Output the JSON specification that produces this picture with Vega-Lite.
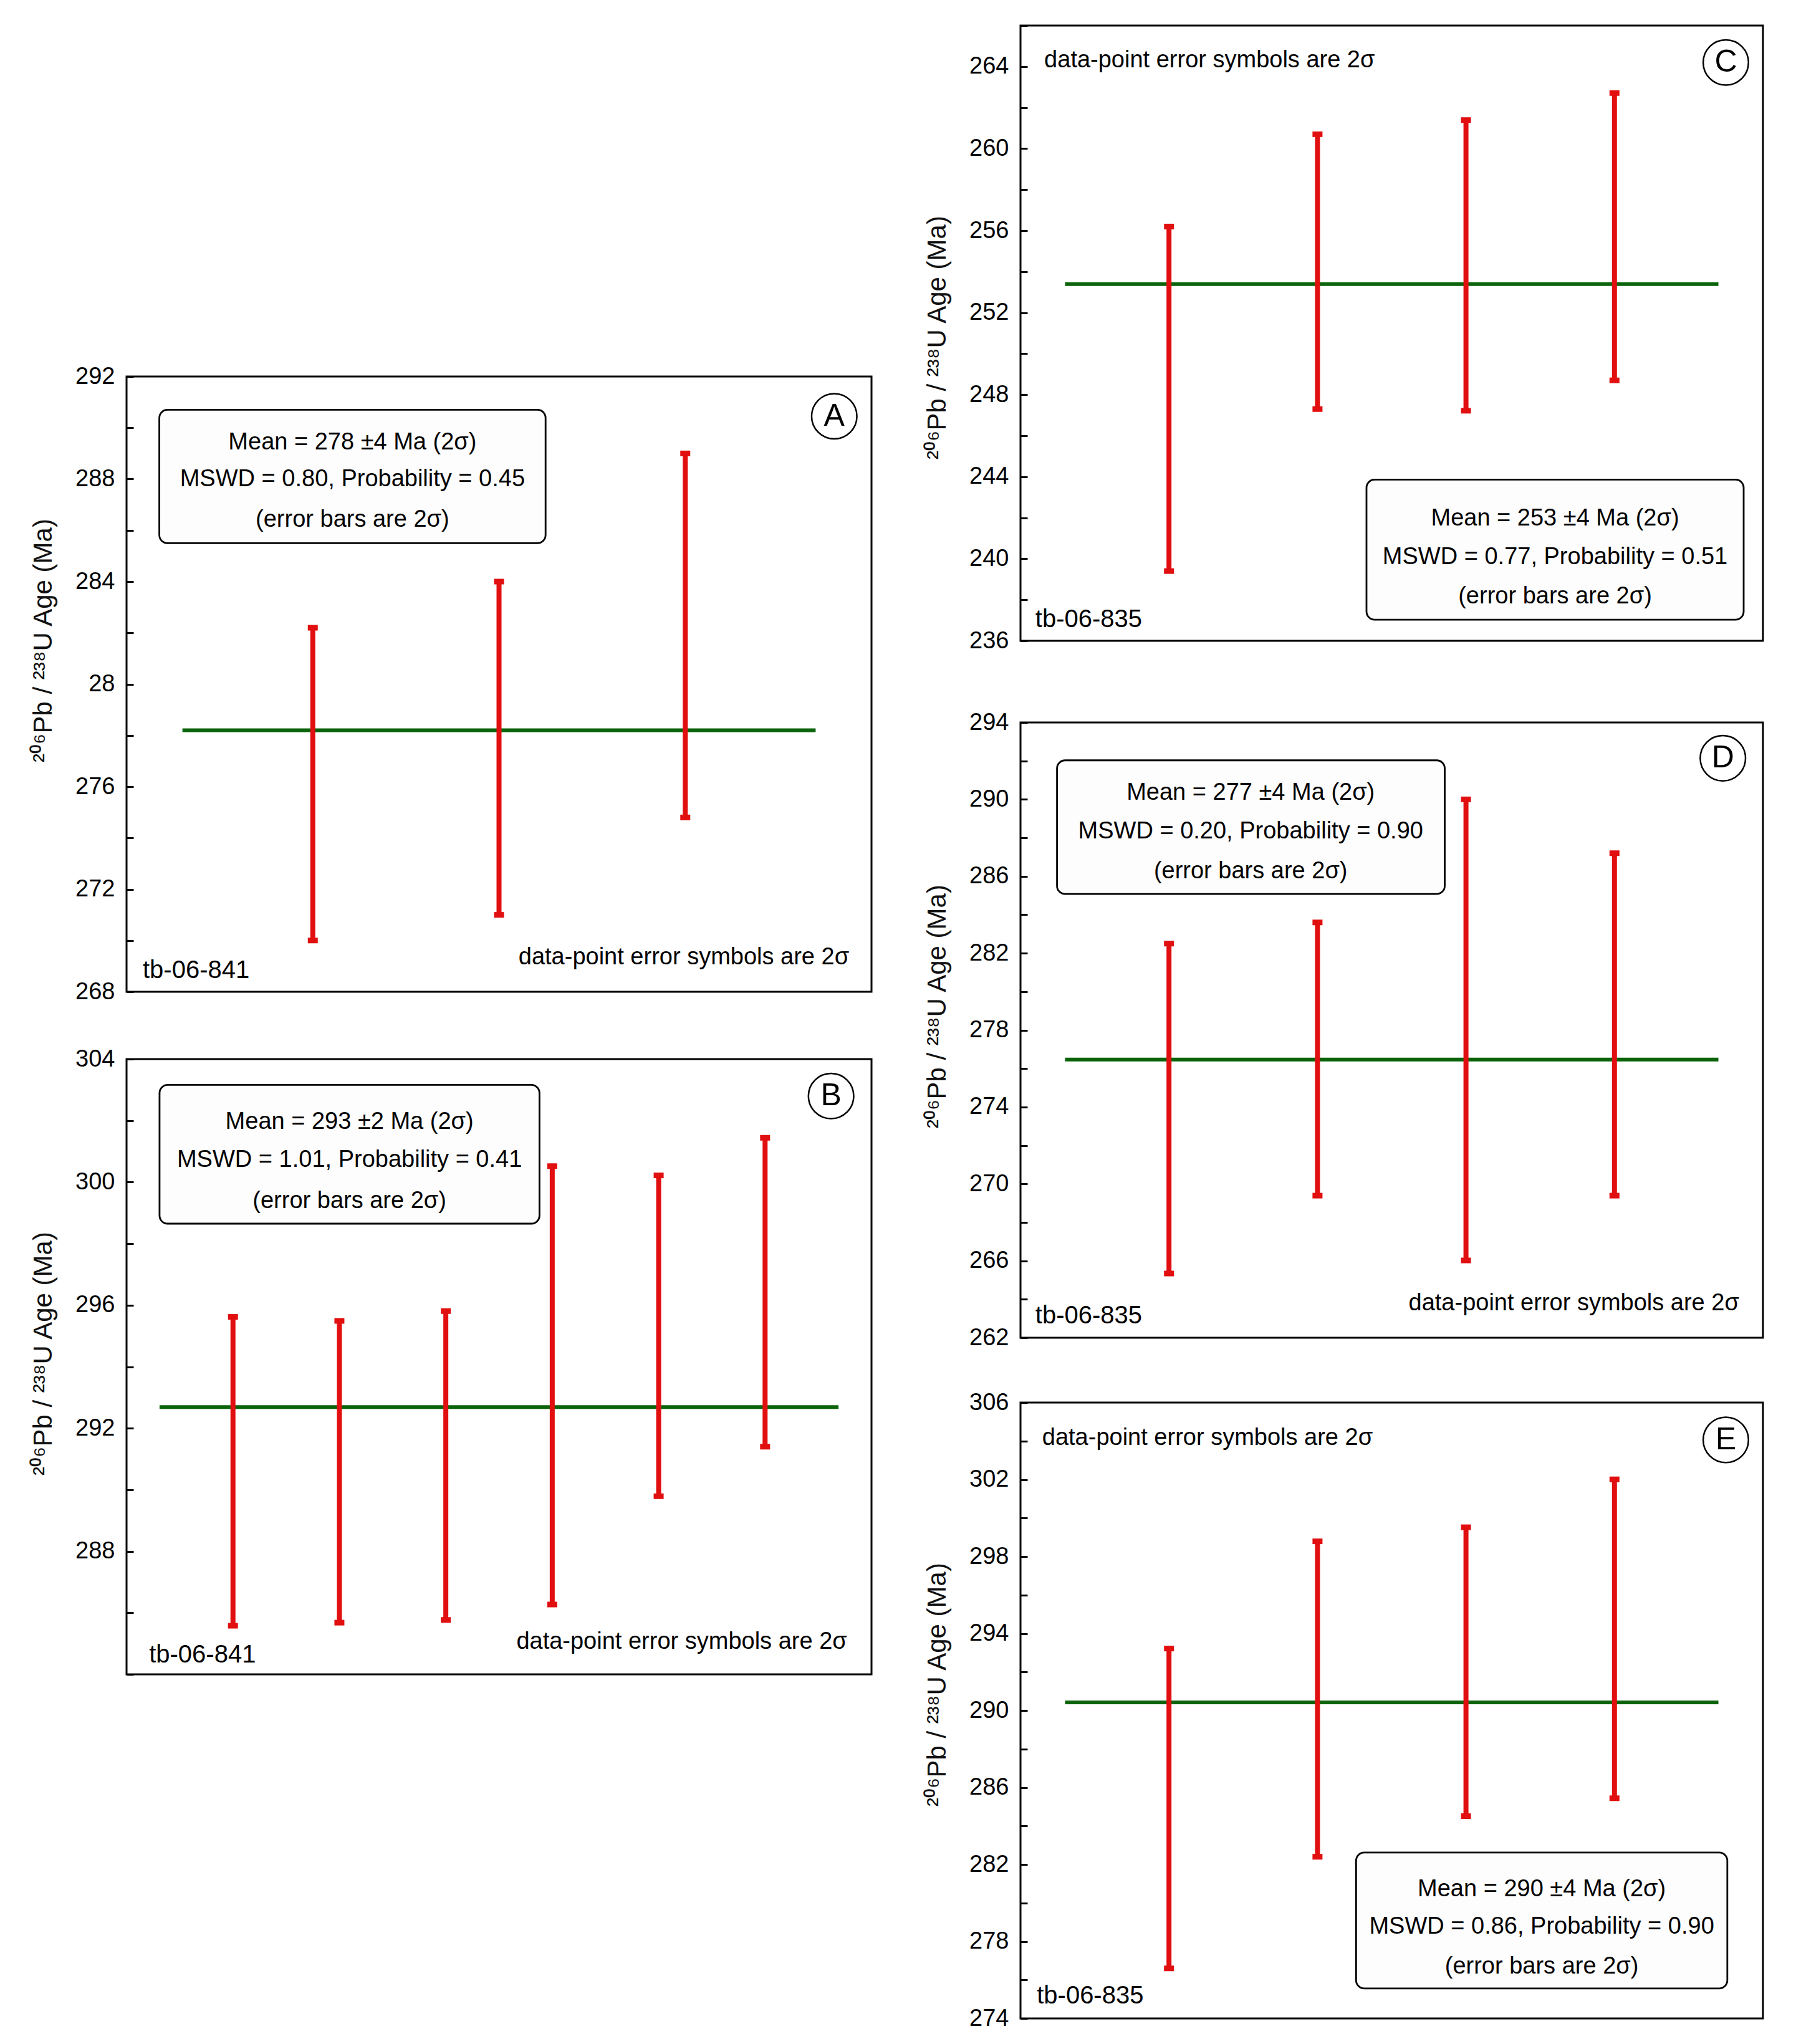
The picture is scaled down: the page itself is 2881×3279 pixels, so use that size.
{
  "$schema": "https://vega.github.io/schema/vega-lite/v6.json",
  "background": "white",
  "padding": {"left": 47, "top": 20, "right": 20, "bottom": 10},
  "config": {
    "font": "Liberation Sans",
    "view": {"stroke": "black", "strokeWidth": 3},
    "axis": {
      "domain": false, "grid": false, "ticks": true, "tickSize": -11, "tickWidth": 3, "tickColor": "black",
      "labelFont": "Liberation Sans", "labelFontSize": 38, "labelColor": "black", "labelPadding": 30,
      "labelFlush": false, "labelOverlap": false, "labelBound": false,
      "titleFont": "Liberation Sans", "titleFontSize": 42, "titleFontWeight": "normal", "titleColor": "#111", "titlePadding": 29
    }
  },
  "spacing": 81,
  "hconcat": [
    {
      "spacing": 66,
      "vconcat": [
        {
          "width": 1195, "height": 476,
          "view": {"stroke": null},
          "data": {"values": [{"t": ""}]},
          "mark": {"type": "text", "text": ""},
          "encoding": {}
        },
        {
          "width": 1195, "height": 987,
          "data": {"values": [
            {"k": "box", "x": 0.176, "x2": 2.25, "y": 285.5, "y2": 290.7},
            {"k": "mean", "x": 0.3, "x2": 3.7, "y": 278.2},
            {"k": "bar", "x": 1, "y": 270.0, "y2": 282.2},
            {"k": "bar", "x": 2, "y": 271.0, "y2": 284.0},
            {"k": "bar", "x": 3, "y": 274.8, "y2": 289.0},
            {"k": "circ", "x": 3.80, "y": 290.45, "t": "A"},
            {"k": "bt", "x": 1.213, "y": 289.43, "t": "Mean = 278 ±4 Ma (2σ)"},
            {"k": "bt", "x": 1.213, "y": 287.99, "t": "MSWD = 0.80, Probability = 0.45"},
            {"k": "bt", "x": 1.213, "y": 286.40, "t": "(error bars are 2σ)"},
            {"k": "id", "x": 0.087, "y": 268.83, "t": "tb-06-841"},
            {"k": "dr", "x": 3.88, "y": 269.33, "t": "data-point error symbols are 2σ"}
          ]},
          "encoding": {
            "x": {"field": "x", "type": "quantitative", "scale": {"domain": [0, 4], "nice": false, "zero": false}, "axis": null},
            "y": {"field": "y", "type": "quantitative", "scale": {"domain": [268, 292], "nice": false, "zero": false},
              "axis": {"values": [268, 270, 272, 274, 276, 278, 280, 282, 284, 286, 288, 290, 292],
                "labelExpr": "datum.value == 280 ? '28' : ((datum.value - 268) % 4 == 0 ? datum.label : '')",
                "title": "²⁰⁶Pb / ²³⁸U Age (Ma)", "titleY": 423}}
          },
          "layer": [
            {"transform": [{"filter": "datum.k == 'box'"}], "mark": {"type": "rect", "cornerRadius": 13, "fill": "#fdfdfd", "stroke": "black", "strokeWidth": 2.8}, "encoding": {"x2": {"field": "x2"}, "y2": {"field": "y2"}}},
            {"transform": [{"filter": "datum.k == 'mean'"}], "mark": {"type": "rule", "color": "#0b640b", "strokeWidth": 6}, "encoding": {"x2": {"field": "x2"}}},
            {"transform": [{"filter": "datum.k == 'bar'"}], "mark": {"type": "rule", "color": "#e10f0f", "strokeWidth": 8}, "encoding": {"y2": {"field": "y2"}}},
            {"transform": [{"filter": "datum.k == 'bar'"}], "mark": {"type": "tick", "orient": "horizontal", "color": "#e10f0f", "size": 16, "thickness": 9, "opacity": 1}},
            {"transform": [{"filter": "datum.k == 'bar'"}], "mark": {"type": "tick", "orient": "horizontal", "color": "#e10f0f", "size": 16, "thickness": 9, "opacity": 1}, "encoding": {"y": {"field": "y2", "type": "quantitative"}}},
            {"transform": [{"filter": "datum.k == 'circ'"}], "mark": {"type": "point", "shape": "circle", "size": 5281, "filled": false, "color": "black", "strokeWidth": 2.5, "opacity": 1}},
            {"transform": [{"filter": "datum.k == 'circ'"}], "mark": {"type": "text", "fontSize": 50, "align": "center", "baseline": "middle", "color": "black"}, "encoding": {"text": {"field": "t"}}},
            {"transform": [{"filter": "datum.k == 'bt'"}], "mark": {"type": "text", "fontSize": 38, "align": "center", "baseline": "middle", "color": "black"}, "encoding": {"text": {"field": "t"}}},
            {"transform": [{"filter": "datum.k == 'id'"}], "mark": {"type": "text", "fontSize": 40, "align": "left", "baseline": "middle", "color": "black"}, "encoding": {"text": {"field": "t"}}},
            {"transform": [{"filter": "datum.k == 'dl'"}], "mark": {"type": "text", "fontSize": 38, "align": "left", "baseline": "middle", "color": "black"}, "encoding": {"text": {"field": "t"}}},
            {"transform": [{"filter": "datum.k == 'dr'"}], "mark": {"type": "text", "fontSize": 38, "align": "right", "baseline": "middle", "color": "black"}, "encoding": {"text": {"field": "t"}}}
          ]
        },
        {
          "width": 1195, "height": 987,
          "data": {"values": [
            {"k": "box", "x": 0.31, "x2": 3.88, "y": 298.65, "y2": 303.16},
            {"k": "mean", "x": 0.31, "x2": 6.69, "y": 292.69},
            {"k": "bar", "x": 1, "y": 285.58, "y2": 295.62},
            {"k": "bar", "x": 2, "y": 285.68, "y2": 295.49},
            {"k": "bar", "x": 3, "y": 285.77, "y2": 295.81},
            {"k": "bar", "x": 4, "y": 286.27, "y2": 300.52},
            {"k": "bar", "x": 5, "y": 289.79, "y2": 300.22},
            {"k": "bar", "x": 6, "y": 291.40, "y2": 301.44},
            {"k": "circ", "x": 6.62, "y": 302.80, "t": "B"},
            {"k": "bt", "x": 2.095, "y": 301.95, "t": "Mean = 293 ±2 Ma (2σ)"},
            {"k": "bt", "x": 2.095, "y": 300.71, "t": "MSWD = 1.01, Probability = 0.41"},
            {"k": "bt", "x": 2.095, "y": 299.37, "t": "(error bars are 2σ)"},
            {"k": "id", "x": 0.212, "y": 284.62, "t": "tb-06-841"},
            {"k": "dr", "x": 6.77, "y": 285.06, "t": "data-point error symbols are 2σ"}
          ]},
          "encoding": {
            "x": {"field": "x", "type": "quantitative", "scale": {"domain": [0, 7], "nice": false, "zero": false}, "axis": null},
            "y": {"field": "y", "type": "quantitative", "scale": {"domain": [284, 304], "nice": false, "zero": false},
              "axis": {"values": [284, 286, 288, 290, 292, 294, 296, 298, 300, 302, 304],
                "labelExpr": "(datum.value - 284) % 4 == 0 && datum.value > 284 ? datum.label : ''",
                "title": "²⁰⁶Pb / ²³⁸U Age (Ma)", "titleY": 472}}
          },
          "layer": [
            {"transform": [{"filter": "datum.k == 'box'"}], "mark": {"type": "rect", "cornerRadius": 13, "fill": "#fdfdfd", "stroke": "black", "strokeWidth": 2.8}, "encoding": {"x2": {"field": "x2"}, "y2": {"field": "y2"}}},
            {"transform": [{"filter": "datum.k == 'mean'"}], "mark": {"type": "rule", "color": "#0b640b", "strokeWidth": 6}, "encoding": {"x2": {"field": "x2"}}},
            {"transform": [{"filter": "datum.k == 'bar'"}], "mark": {"type": "rule", "color": "#e10f0f", "strokeWidth": 8}, "encoding": {"y2": {"field": "y2"}}},
            {"transform": [{"filter": "datum.k == 'bar'"}], "mark": {"type": "tick", "orient": "horizontal", "color": "#e10f0f", "size": 16, "thickness": 9, "opacity": 1}},
            {"transform": [{"filter": "datum.k == 'bar'"}], "mark": {"type": "tick", "orient": "horizontal", "color": "#e10f0f", "size": 16, "thickness": 9, "opacity": 1}, "encoding": {"y": {"field": "y2", "type": "quantitative"}}},
            {"transform": [{"filter": "datum.k == 'circ'"}], "mark": {"type": "point", "shape": "circle", "size": 5281, "filled": false, "color": "black", "strokeWidth": 2.5, "opacity": 1}},
            {"transform": [{"filter": "datum.k == 'circ'"}], "mark": {"type": "text", "fontSize": 50, "align": "center", "baseline": "middle", "color": "black"}, "encoding": {"text": {"field": "t"}}},
            {"transform": [{"filter": "datum.k == 'bt'"}], "mark": {"type": "text", "fontSize": 38, "align": "center", "baseline": "middle", "color": "black"}, "encoding": {"text": {"field": "t"}}},
            {"transform": [{"filter": "datum.k == 'id'"}], "mark": {"type": "text", "fontSize": 40, "align": "left", "baseline": "middle", "color": "black"}, "encoding": {"text": {"field": "t"}}},
            {"transform": [{"filter": "datum.k == 'dl'"}], "mark": {"type": "text", "fontSize": 38, "align": "left", "baseline": "middle", "color": "black"}, "encoding": {"text": {"field": "t"}}},
            {"transform": [{"filter": "datum.k == 'dr'"}], "mark": {"type": "text", "fontSize": 38, "align": "right", "baseline": "middle", "color": "black"}, "encoding": {"text": {"field": "t"}}}
          ]
        }
      ]
    },
    {
      "spacing": 89,
      "vconcat": [
        {
          "width": 1191, "height": 987,
          "data": {"values": [
            {"k": "box", "x": 2.33, "x2": 4.87, "y": 237.03, "y2": 243.86},
            {"k": "mean", "x": 0.30, "x2": 4.70, "y": 253.39},
            {"k": "bar", "x": 1, "y": 239.4, "y2": 256.2},
            {"k": "bar", "x": 2, "y": 247.3, "y2": 260.7},
            {"k": "bar", "x": 3, "y": 247.22, "y2": 261.39},
            {"k": "bar", "x": 4, "y": 248.7, "y2": 262.71},
            {"k": "circ", "x": 4.75, "y": 264.2, "t": "C"},
            {"k": "bt", "x": 3.60, "y": 241.95, "t": "Mean = 253 ±4 Ma (2σ)"},
            {"k": "bt", "x": 3.60, "y": 240.06, "t": "MSWD = 0.77, Probability = 0.51"},
            {"k": "bt", "x": 3.60, "y": 238.15, "t": "(error bars are 2σ)"},
            {"k": "id", "x": 0.10, "y": 237.03, "t": "tb-06-835"},
            {"k": "dl", "x": 0.16, "y": 264.3, "t": "data-point error symbols are 2σ"}
          ]},
          "encoding": {
            "x": {"field": "x", "type": "quantitative", "scale": {"domain": [0, 5], "nice": false, "zero": false}, "axis": null},
            "y": {"field": "y", "type": "quantitative", "scale": {"domain": [236, 266], "nice": false, "zero": false},
              "axis": {"values": [236, 238, 240, 242, 244, 246, 248, 250, 252, 254, 256, 258, 260, 262, 264, 266],
                "labelExpr": "(datum.value - 236) % 4 == 0 ? datum.label : ''",
                "title": "²⁰⁶Pb / ²³⁸U Age (Ma)", "titleY": 500}}
          },
          "layer": [
            {"transform": [{"filter": "datum.k == 'box'"}], "mark": {"type": "rect", "cornerRadius": 13, "fill": "#fdfdfd", "stroke": "black", "strokeWidth": 2.8}, "encoding": {"x2": {"field": "x2"}, "y2": {"field": "y2"}}},
            {"transform": [{"filter": "datum.k == 'mean'"}], "mark": {"type": "rule", "color": "#0b640b", "strokeWidth": 6}, "encoding": {"x2": {"field": "x2"}}},
            {"transform": [{"filter": "datum.k == 'bar'"}], "mark": {"type": "rule", "color": "#e10f0f", "strokeWidth": 8}, "encoding": {"y2": {"field": "y2"}}},
            {"transform": [{"filter": "datum.k == 'bar'"}], "mark": {"type": "tick", "orient": "horizontal", "color": "#e10f0f", "size": 16, "thickness": 9, "opacity": 1}},
            {"transform": [{"filter": "datum.k == 'bar'"}], "mark": {"type": "tick", "orient": "horizontal", "color": "#e10f0f", "size": 16, "thickness": 9, "opacity": 1}, "encoding": {"y": {"field": "y2", "type": "quantitative"}}},
            {"transform": [{"filter": "datum.k == 'circ'"}], "mark": {"type": "point", "shape": "circle", "size": 5281, "filled": false, "color": "black", "strokeWidth": 2.5, "opacity": 1}},
            {"transform": [{"filter": "datum.k == 'circ'"}], "mark": {"type": "text", "fontSize": 50, "align": "center", "baseline": "middle", "color": "black"}, "encoding": {"text": {"field": "t"}}},
            {"transform": [{"filter": "datum.k == 'bt'"}], "mark": {"type": "text", "fontSize": 38, "align": "center", "baseline": "middle", "color": "black"}, "encoding": {"text": {"field": "t"}}},
            {"transform": [{"filter": "datum.k == 'id'"}], "mark": {"type": "text", "fontSize": 40, "align": "left", "baseline": "middle", "color": "black"}, "encoding": {"text": {"field": "t"}}},
            {"transform": [{"filter": "datum.k == 'dl'"}], "mark": {"type": "text", "fontSize": 38, "align": "left", "baseline": "middle", "color": "black"}, "encoding": {"text": {"field": "t"}}},
            {"transform": [{"filter": "datum.k == 'dr'"}], "mark": {"type": "text", "fontSize": 38, "align": "right", "baseline": "middle", "color": "black"}, "encoding": {"text": {"field": "t"}}}
          ]
        },
        {
          "spacing": 62,
          "vconcat": [
            {
              "width": 1191, "height": 987,
              "data": {"values": [
                {"k": "box", "x": 0.246, "x2": 2.857, "y": 285.08, "y2": 292.03},
                {"k": "mean", "x": 0.30, "x2": 4.70, "y": 276.47},
                {"k": "bar", "x": 1, "y": 265.34, "y2": 282.5},
                {"k": "bar", "x": 2, "y": 269.39, "y2": 283.6},
                {"k": "bar", "x": 3, "y": 266.02, "y2": 290.0},
                {"k": "bar", "x": 4, "y": 269.39, "y2": 287.2},
                {"k": "circ", "x": 4.73, "y": 292.14, "t": "D"},
                {"k": "bt", "x": 1.55, "y": 290.33, "t": "Mean = 277 ±4 Ma (2σ)"},
                {"k": "bt", "x": 1.55, "y": 288.32, "t": "MSWD = 0.20, Probability = 0.90"},
                {"k": "bt", "x": 1.55, "y": 286.24, "t": "(error bars are 2σ)"},
                {"k": "id", "x": 0.10, "y": 263.14, "t": "tb-06-835"},
                {"k": "dr", "x": 4.84, "y": 263.79, "t": "data-point error symbols are 2σ"}
              ]},
              "encoding": {
                "x": {"field": "x", "type": "quantitative", "scale": {"domain": [0, 5], "nice": false, "zero": false}, "axis": null},
                "y": {"field": "y", "type": "quantitative", "scale": {"domain": [262, 294], "nice": false, "zero": false},
                  "axis": {"values": [262, 264, 266, 268, 270, 272, 274, 276, 278, 280, 282, 284, 286, 288, 290, 292, 294],
                    "labelExpr": "(datum.value - 262) % 4 == 0 ? datum.label : ''",
                    "title": "²⁰⁶Pb / ²³⁸U Age (Ma)", "titleY": 455}}
              },
              "layer": [
                {"transform": [{"filter": "datum.k == 'box'"}], "mark": {"type": "rect", "cornerRadius": 13, "fill": "#fdfdfd", "stroke": "black", "strokeWidth": 2.8}, "encoding": {"x2": {"field": "x2"}, "y2": {"field": "y2"}}},
                {"transform": [{"filter": "datum.k == 'mean'"}], "mark": {"type": "rule", "color": "#0b640b", "strokeWidth": 6}, "encoding": {"x2": {"field": "x2"}}},
                {"transform": [{"filter": "datum.k == 'bar'"}], "mark": {"type": "rule", "color": "#e10f0f", "strokeWidth": 8}, "encoding": {"y2": {"field": "y2"}}},
                {"transform": [{"filter": "datum.k == 'bar'"}], "mark": {"type": "tick", "orient": "horizontal", "color": "#e10f0f", "size": 16, "thickness": 9, "opacity": 1}},
                {"transform": [{"filter": "datum.k == 'bar'"}], "mark": {"type": "tick", "orient": "horizontal", "color": "#e10f0f", "size": 16, "thickness": 9, "opacity": 1}, "encoding": {"y": {"field": "y2", "type": "quantitative"}}},
                {"transform": [{"filter": "datum.k == 'circ'"}], "mark": {"type": "point", "shape": "circle", "size": 5281, "filled": false, "color": "black", "strokeWidth": 2.5, "opacity": 1}},
                {"transform": [{"filter": "datum.k == 'circ'"}], "mark": {"type": "text", "fontSize": 50, "align": "center", "baseline": "middle", "color": "black"}, "encoding": {"text": {"field": "t"}}},
                {"transform": [{"filter": "datum.k == 'bt'"}], "mark": {"type": "text", "fontSize": 38, "align": "center", "baseline": "middle", "color": "black"}, "encoding": {"text": {"field": "t"}}},
                {"transform": [{"filter": "datum.k == 'id'"}], "mark": {"type": "text", "fontSize": 40, "align": "left", "baseline": "middle", "color": "black"}, "encoding": {"text": {"field": "t"}}},
                {"transform": [{"filter": "datum.k == 'dl'"}], "mark": {"type": "text", "fontSize": 38, "align": "left", "baseline": "middle", "color": "black"}, "encoding": {"text": {"field": "t"}}},
                {"transform": [{"filter": "datum.k == 'dr'"}], "mark": {"type": "text", "fontSize": 38, "align": "right", "baseline": "middle", "color": "black"}, "encoding": {"text": {"field": "t"}}}
              ]
            },
            {
              "width": 1191, "height": 988,
              "data": {"values": [
                {"k": "box", "x": 2.26, "x2": 4.76, "y": 275.56, "y2": 282.62},
                {"k": "mean", "x": 0.30, "x2": 4.70, "y": 290.42},
                {"k": "bar", "x": 1, "y": 276.60, "y2": 293.22},
                {"k": "bar", "x": 2, "y": 282.40, "y2": 298.79},
                {"k": "bar", "x": 3, "y": 284.51, "y2": 299.52},
                {"k": "bar", "x": 4, "y": 285.44, "y2": 302.01},
                {"k": "circ", "x": 4.75, "y": 304.06, "t": "E"},
                {"k": "bt", "x": 3.51, "y": 280.72, "t": "Mean = 290 ±4 Ma (2σ)"},
                {"k": "bt", "x": 3.51, "y": 278.76, "t": "MSWD = 0.86, Probability = 0.90"},
                {"k": "bt", "x": 3.51, "y": 276.69, "t": "(error bars are 2σ)"},
                {"k": "id", "x": 0.11, "y": 275.15, "t": "tb-06-835"},
                {"k": "dl", "x": 0.146, "y": 304.17, "t": "data-point error symbols are 2σ"}
              ]},
              "encoding": {
                "x": {"field": "x", "type": "quantitative", "scale": {"domain": [0, 5], "nice": false, "zero": false}, "axis": null},
                "y": {"field": "y", "type": "quantitative", "scale": {"domain": [274, 306], "nice": false, "zero": false},
                  "axis": {"values": [274, 276, 278, 280, 282, 284, 286, 288, 290, 292, 294, 296, 298, 300, 302, 304, 306],
                    "labelExpr": "(datum.value - 274) % 4 == 0 ? datum.label : ''",
                    "title": "²⁰⁶Pb / ²³⁸U Age (Ma)", "titleY": 452}}
              },
              "layer": [
                {"transform": [{"filter": "datum.k == 'box'"}], "mark": {"type": "rect", "cornerRadius": 13, "fill": "#fdfdfd", "stroke": "black", "strokeWidth": 2.8}, "encoding": {"x2": {"field": "x2"}, "y2": {"field": "y2"}}},
                {"transform": [{"filter": "datum.k == 'mean'"}], "mark": {"type": "rule", "color": "#0b640b", "strokeWidth": 6}, "encoding": {"x2": {"field": "x2"}}},
                {"transform": [{"filter": "datum.k == 'bar'"}], "mark": {"type": "rule", "color": "#e10f0f", "strokeWidth": 8}, "encoding": {"y2": {"field": "y2"}}},
                {"transform": [{"filter": "datum.k == 'bar'"}], "mark": {"type": "tick", "orient": "horizontal", "color": "#e10f0f", "size": 16, "thickness": 9, "opacity": 1}},
                {"transform": [{"filter": "datum.k == 'bar'"}], "mark": {"type": "tick", "orient": "horizontal", "color": "#e10f0f", "size": 16, "thickness": 9, "opacity": 1}, "encoding": {"y": {"field": "y2", "type": "quantitative"}}},
                {"transform": [{"filter": "datum.k == 'circ'"}], "mark": {"type": "point", "shape": "circle", "size": 5281, "filled": false, "color": "black", "strokeWidth": 2.5, "opacity": 1}},
                {"transform": [{"filter": "datum.k == 'circ'"}], "mark": {"type": "text", "fontSize": 50, "align": "center", "baseline": "middle", "color": "black"}, "encoding": {"text": {"field": "t"}}},
                {"transform": [{"filter": "datum.k == 'bt'"}], "mark": {"type": "text", "fontSize": 38, "align": "center", "baseline": "middle", "color": "black"}, "encoding": {"text": {"field": "t"}}},
                {"transform": [{"filter": "datum.k == 'id'"}], "mark": {"type": "text", "fontSize": 40, "align": "left", "baseline": "middle", "color": "black"}, "encoding": {"text": {"field": "t"}}},
                {"transform": [{"filter": "datum.k == 'dl'"}], "mark": {"type": "text", "fontSize": 38, "align": "left", "baseline": "middle", "color": "black"}, "encoding": {"text": {"field": "t"}}},
                {"transform": [{"filter": "datum.k == 'dr'"}], "mark": {"type": "text", "fontSize": 38, "align": "right", "baseline": "middle", "color": "black"}, "encoding": {"text": {"field": "t"}}}
              ]
            }
          ]
        }
      ]
    }
  ]
}
